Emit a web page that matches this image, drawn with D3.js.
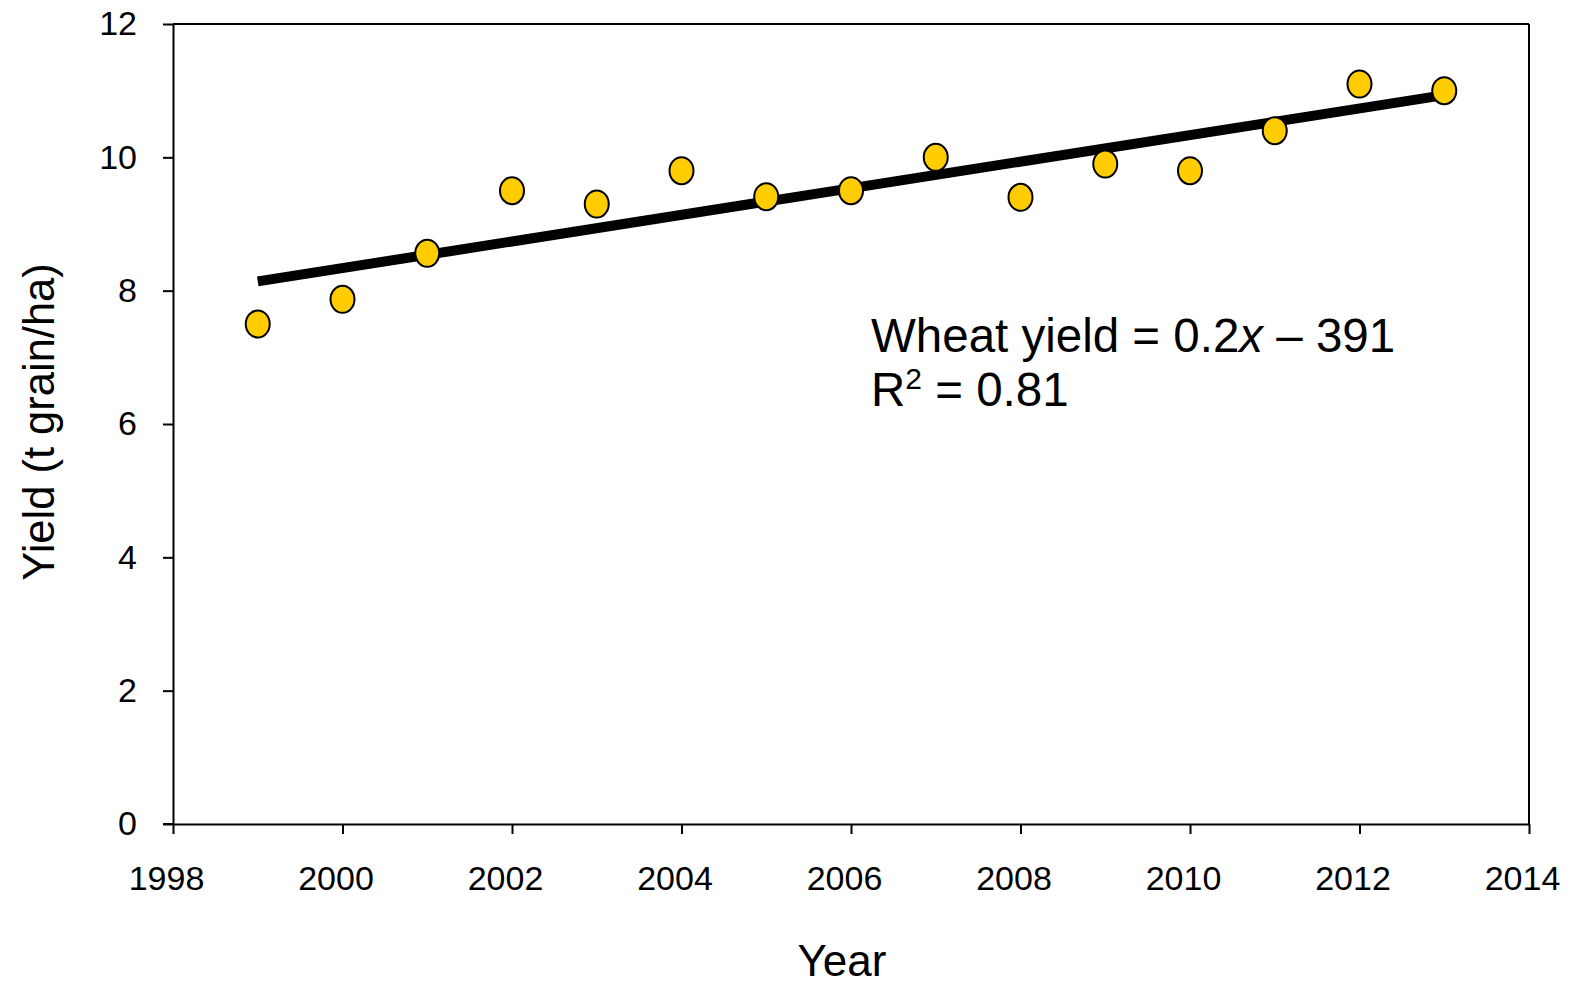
<!DOCTYPE html>
<html>
<head>
<meta charset="utf-8">
<script src="https://cdn.jsdelivr.net/npm/d3@7"></script>
<style>
  html, body { margin: 0; padding: 0; background: #fff; }
  svg { display: block; }
  text { font-family: "Liberation Sans", Arial, sans-serif; fill: #000; }
</style>
</head>
<body>
<svg id="chart" width="1574" height="981"></svg>
<script>
const years = [1999, 2000, 2001, 2002, 2003, 2004, 2005, 2006, 2007, 2008, 2009, 2010, 2011, 2012, 2013];
const yields = [7.5, 7.87, 8.56, 9.5, 9.3, 9.8, 9.41, 9.5, 10.0, 9.4, 9.9, 9.8, 10.4, 11.1, 11.0];
const xTicks = [1998, 2000, 2002, 2004, 2006, 2008, 2010, 2012, 2014];
const yTicks = [0, 2, 4, 6, 8, 10, 12];
const equationText = "Wheat yield = 0.2";
const equationVar = "x";
const equationTail = " \u2013 391";
const r2Value = " = 0.81";
const xTitle = "Year";
const yTitle = "Yield (t grain/ha)";

const svg = d3.select("#chart");
const pL = 173, pR = 1529, pT = 24, pB = 824;

const x = d3.scaleLinear().domain([1998, 2014]).range([pL, pR]);
const y = d3.scaleLinear().domain([0, 12]).range([pB, pT]);

// Least squares trend line from the data
const mx = d3.mean(years), my = d3.mean(yields);
const slope = d3.sum(years, (d, i) => (d - mx) * (yields[i] - my)) / d3.sum(years, d => (d - mx) ** 2);
const icpt = my - slope * mx;
const x0 = d3.min(years), x1 = d3.max(years);

// frame top & right
svg.append("line").attr("x1", pL).attr("x2", pR).attr("y1", pT).attr("y2", pT)
  .attr("stroke", "#000").attr("stroke-width", 2);
svg.append("line").attr("x1", pR).attr("x2", pR).attr("y1", pT).attr("y2", pB)
  .attr("stroke", "#000").attr("stroke-width", 2);

// axes
const xAxis = svg.append("g").attr("transform", `translate(0,${pB})`)
  .call(d3.axisBottom(x).tickValues(xTicks).tickFormat(d3.format("d")).tickSize(10).tickSizeOuter(0).tickPadding(32));
const yAxis = svg.append("g").attr("transform", `translate(${pL},0)`)
  .call(d3.axisLeft(y).tickValues(yTicks).tickFormat(d3.format("d")).tickSize(10).tickSizeOuter(0).tickPadding(26));
[xAxis, yAxis].forEach(g => {
  g.select(".domain").attr("stroke", "#000").attr("stroke-width", 2);
  g.selectAll(".tick line").attr("stroke", "#000").attr("stroke-width", 2);
  g.selectAll(".tick text").attr("font-size", 34).attr("font-family", "'Liberation Sans', Arial, sans-serif").attr("fill", "#000");
});
xAxis.selectAll(".tick text").attr("dx", -7);
svg.append("line").attr("x1", pL - 10).attr("x2", pL).attr("y1", pB).attr("y2", pB)
  .attr("stroke", "#000").attr("stroke-width", 2);

// trend line
svg.append("line")
  .attr("x1", x(x0)).attr("y1", y(icpt + slope * x0))
  .attr("x2", x(x1)).attr("y2", y(icpt + slope * x1))
  .attr("stroke", "#000").attr("stroke-width", 10).attr("stroke-linecap", "butt");

// points
svg.append("g").selectAll("ellipse").data(years).join("ellipse")
  .attr("cx", d => x(d)).attr("cy", (d, i) => y(yields[i]))
  .attr("rx", 12).attr("ry", 13.5)
  .attr("fill", "#FFCC00").attr("stroke", "#000").attr("stroke-width", 2);

// equation
const eq = svg.append("text").attr("x", 871).attr("y", 352).attr("font-size", 47.5);
eq.append("tspan").text(equationText);
eq.append("tspan").attr("font-style", "italic").text(equationVar);
eq.append("tspan").text(equationTail);
const r2 = svg.append("text").attr("x", 871).attr("y", 406).attr("font-size", 47.5);
r2.append("tspan").text("R");
r2.append("tspan").attr("font-size", 30).attr("dy", -17).text("2");
r2.append("tspan").attr("dy", 17).text(r2Value);

// axis titles
svg.append("text").attr("x", 842).attr("y", 976).attr("text-anchor", "middle")
  .attr("font-size", 44).text(xTitle);
svg.append("text").attr("transform", `translate(54,${(pT + pB) / 2 - 2}) rotate(-90)`)
  .attr("text-anchor", "middle").attr("font-size", 43.5).text(yTitle);
</script>
</body>
</html>
